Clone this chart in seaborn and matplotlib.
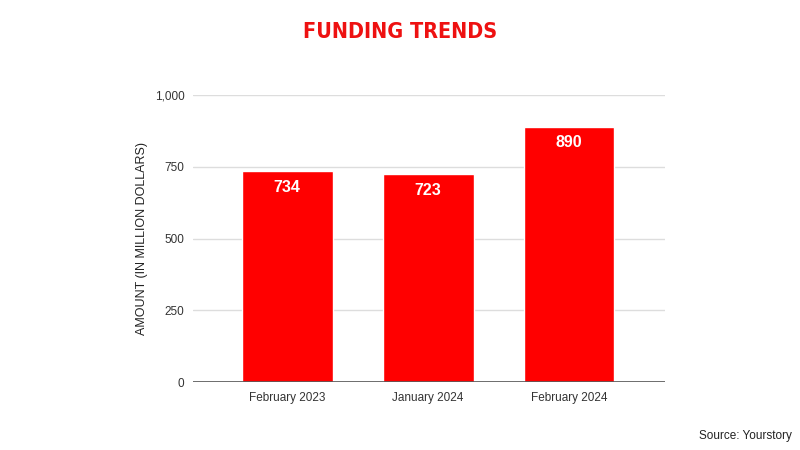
import matplotlib
matplotlib.use("Agg")
import matplotlib.pyplot as plt
import seaborn as sns
import pandas as pd

categories = ["February 2023", "January 2024", "February 2024"]
values = [734, 723, 890]
yticks = [0, 250, 500, 750, 1000]
ytick_labels = ["0", "250", "500", "750", "1,000"]

sns.set_theme(style="white")
plt.rcParams['font.family'] = ['Liberation Sans', 'DejaVu Sans']

df = pd.DataFrame({"month": categories, "amount": values})

fig = plt.figure(figsize=(8, 4.5), dpi=100)
ax = fig.add_axes([0.241, 0.151, 0.590, 0.638])

sns.barplot(data=df, x="month", y="amount", color="#ff0000", saturation=1,
            width=0.645, ax=ax, zorder=3)

ax.set_xlim(-0.67, 2.68)
ax.set_ylim(0, 1000)
ax.set_yticks(yticks)
ax.set_yticklabels(ytick_labels)
ax.yaxis.grid(True, color="#dddddd", linewidth=1, zorder=0)
ax.axhline(0, color="#555555", linewidth=1.2, zorder=4)
for s in ax.spines.values():
    s.set_visible(False)
ax.tick_params(axis="both", length=0, labelsize=8.5, colors="#333333")
ax.tick_params(axis="y", pad=6)
ax.tick_params(axis="x", pad=7)
ax.set_xlabel("")
ax.set_ylabel("AMOUNT (IN MILLION DOLLARS)", fontsize=9, color="#222222", labelpad=5)

for i, v in enumerate(values):
    ax.text(i, v - 30, f"{v}", ha="center", va="top", color="white",
            fontsize=11.5, fontweight="bold")

fig.text(0.5, 0.928, "FUNDING TRENDS", ha="center", va="center", color="#ee1111",
         fontsize=15.5, fontweight="bold", fontstretch="condensed",
         family=["DejaVu Sans"])
fig.text(0.99, 0.03, "Source: Yourstory", ha="right", va="center", fontsize=8.5, color="#222222")

fig.savefig("out.png", dpi=100, facecolor="white")
